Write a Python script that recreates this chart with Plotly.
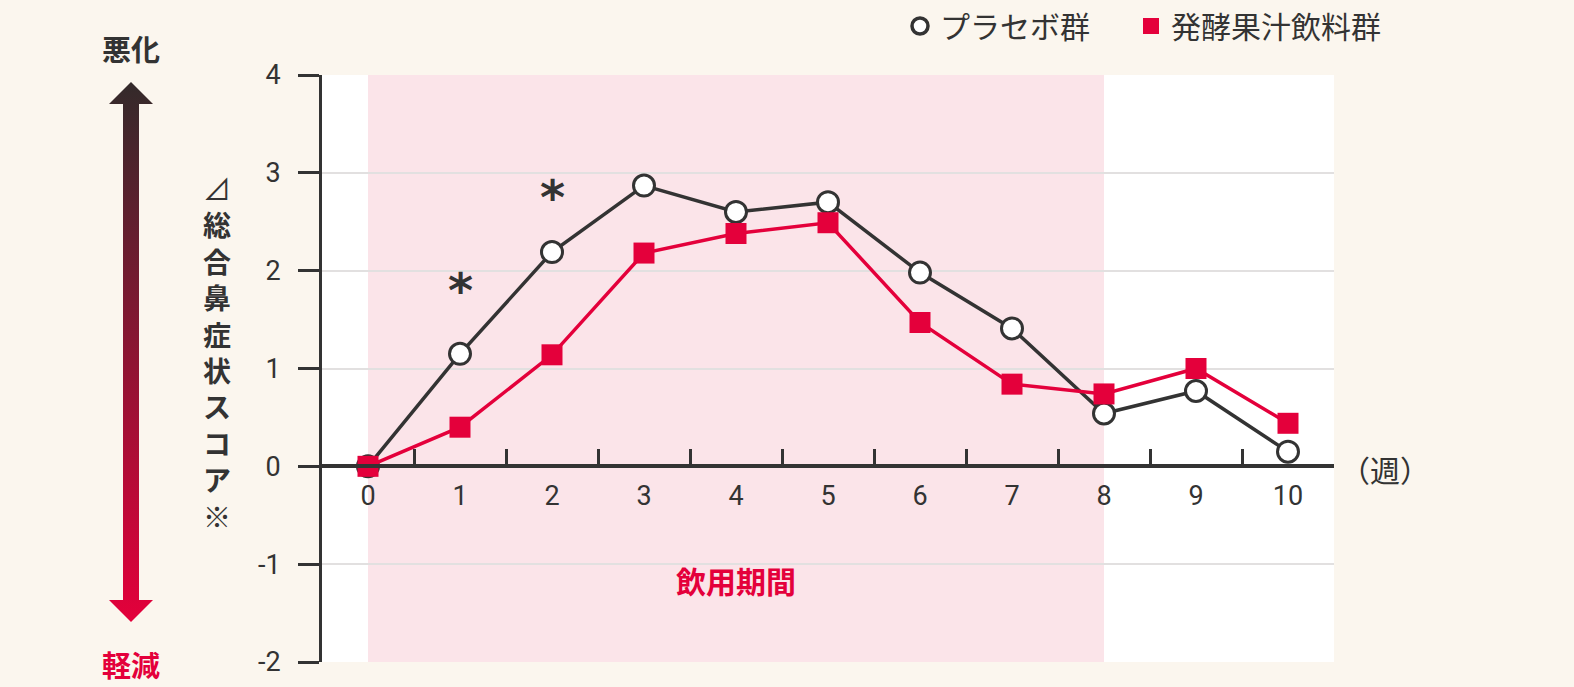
import base64
import plotly.graph_objects as go

weeks = [0, 1, 2, 3, 4, 5, 6, 7, 8, 9, 10]
placebo = [0, 1.15, 2.19, 2.87, 2.60, 2.70, 1.98, 1.41, 0.54, 0.77, 0.15]
fermented = [0, 0.40, 1.14, 2.18, 2.38, 2.49, 1.47, 0.84, 0.74, 1.00, 0.44]
sig_weeks = [1, 2]
sig_y = [1.80, 2.75]
y_ticks = [-2, -1, 0, 1, 2, 3, 4]
y_ticktext = ["-2", "-1", "0", "1", "2", "3", "4"]
minor_ticks = [0.5, 1.5, 2.5, 3.5, 4.5, 5.5, 6.5, 7.5, 8.5, 9.5, 10.5]
period_start, period_end = 0, 8
title_chars = ["⊿", "総", "合", "鼻", "症", "状", "ス", "コ", "ア", "※"]

DARK = "#333333"
RED = "#e4003b"
BG = "#fbf6ee"
PINK = "#fbe4e9"
JP = "Noto Sans CJK JP"
NUM = "Roboto, sans-serif"

L, R, T, B = 322, 240, 75, 25
W, H = 1574, 687
PW, PH = W - L - R, H - T - B


def px(x):
    return (x - L) / PW


def py(y):
    return (H - B - y) / PH


fig = go.Figure()
fig.add_trace(go.Scatter(x=weeks, y=placebo, mode="lines+markers", showlegend=False,
                         line=dict(color=DARK, width=3.5),
                         marker=dict(symbol="circle", size=21, color="white",
                                     line=dict(color=DARK, width=3)),
                         cliponaxis=False))
fig.add_trace(go.Scatter(x=weeks, y=fermented, mode="lines+markers", showlegend=False,
                         line=dict(color=RED, width=3.5),
                         marker=dict(symbol="square", size=21, color=RED),
                         cliponaxis=False))
# legend entries
fig.add_trace(go.Scatter(x=[None], y=[None], mode="markers", name="プラセボ群",
                         legend="legend",
                         marker=dict(symbol="circle", size=17, color="white",
                                     line=dict(color=DARK, width=3.5))))
fig.add_trace(go.Scatter(x=[None], y=[None], mode="markers", name="発酵果汁飲料群",
                         legend="legend2",
                         marker=dict(symbol="square", size=19, color=RED)))
# overlay axis for ticks between labels
fig.add_trace(go.Scatter(x=[None], y=[None], xaxis="x2", showlegend=False))

# significance marks
for wx, wy in zip(sig_weeks, sig_y):
    fig.add_annotation(x=wx, y=wy, text="<b>*</b>", showarrow=False,
                       xanchor="center", yanchor="middle",
                       font=dict(size=48, color=DARK, family="DejaVu Sans"))

fig.add_shape(type="rect", x0=period_start, x1=period_end, y0=-2, y1=4,
              xref="x", yref="y", fillcolor=PINK, line_width=0, layer="below")

fig.add_annotation(x=(period_start + period_end) / 2, y=-1.16, text="<b>飲用期間</b>",
                   showarrow=False, xanchor="center", yanchor="middle",
                   font=dict(size=30, color=RED, family=JP))
fig.add_annotation(xref="paper", yref="y", x=px(1385), y=0, yshift=-3, text="（週）",
                   showarrow=False, xanchor="center", yanchor="middle",
                   font=dict(size=30, color=DARK, family=JP))

# arrow with gradient
svg = ('<svg xmlns="http://www.w3.org/2000/svg" width="44" height="538" viewBox="0 0 44 538" '
       'preserveAspectRatio="none"><defs><linearGradient id="g" x1="0" y1="0" x2="0" y2="1">'
       '<stop offset="0" stop-color="#332a2a"/><stop offset="1" stop-color="#e4003b"/>'
       '</linearGradient></defs><polygon fill="url(#g)" points="22,0 44,22 30,22 30,516 44,516 '
       '22,538 0,516 14,516 14,22 0,22"/></svg>')
src = "data:image/svg+xml;base64," + base64.b64encode(svg.encode()).decode()
fig.add_layout_image(source=src, xref="paper", yref="paper", x=px(109), y=py(82),
                     sizex=44 / PW, sizey=540 / PH, xanchor="left", yanchor="top",
                     sizing="stretch", layer="above")

fig.add_annotation(xref="paper", yref="paper", x=px(131), y=py(48), text="<b>悪化</b>",
                   showarrow=False, xanchor="center", yanchor="middle",
                   font=dict(size=29, color=DARK, family=JP))
fig.add_annotation(xref="paper", yref="paper", x=px(131), y=py(664), text="<b>軽減</b>",
                   showarrow=False, xanchor="center", yanchor="middle",
                   font=dict(size=29, color=RED, family=JP))

# vertical (stacked) axis title
fig.add_annotation(xref="paper", yref="paper", x=px(217), y=py(352),
                   text="<br>".join(c if c in ("⊿", "※") else "<b>" + c + "</b>"
                                    for c in title_chars),
                   showarrow=False, xanchor="center", yanchor="middle",
                   font=dict(size=28, color=DARK, family=JP))

leg_common = dict(orientation="h", xanchor="left", yanchor="top", y=py(0),
                  font=dict(size=30, color=DARK, family=JP), bgcolor="rgba(0,0,0,0)",
                  itemwidth=30)

fig.update_layout(
    width=W, height=H,
    margin=dict(l=L, r=R, t=T, b=B, autoexpand=False),
    paper_bgcolor=BG, plot_bgcolor="white",
    showlegend=True,
    legend=dict(x=px(900), **leg_common),
    legend2=dict(x=px(1131), **leg_common),
    xaxis=dict(range=[-0.5, 10.5], tickvals=weeks, ticks="", showgrid=False,
               zeroline=False, showline=True, linecolor=DARK, linewidth=4,
               anchor="free", position=1/3, ticklabelstandoff=4,
               tickfont=dict(size=27, color=DARK, family=NUM)),
    xaxis2=dict(range=[-0.5, 10.5], overlaying="x", anchor="free", position=1/3,
                side="bottom", tickvals=minor_ticks, ticks="inside", ticklen=17,
                tickwidth=3, tickcolor=DARK, showticklabels=False, showgrid=False,
                zeroline=False, showline=False),
    yaxis=dict(range=[-2, 4], tickvals=y_ticks, ticktext=y_ticktext, ticks="outside",
               ticklen=21, tickwidth=3, tickcolor=DARK, showline=True, linecolor=DARK,
               linewidth=3, showgrid=True, gridcolor="#e2e0e0", gridwidth=1.5,
               zeroline=False, ticklabelstandoff=12,
               tickfont=dict(size=27, color=DARK, family=NUM)),
)

fig.write_html("out.html")
